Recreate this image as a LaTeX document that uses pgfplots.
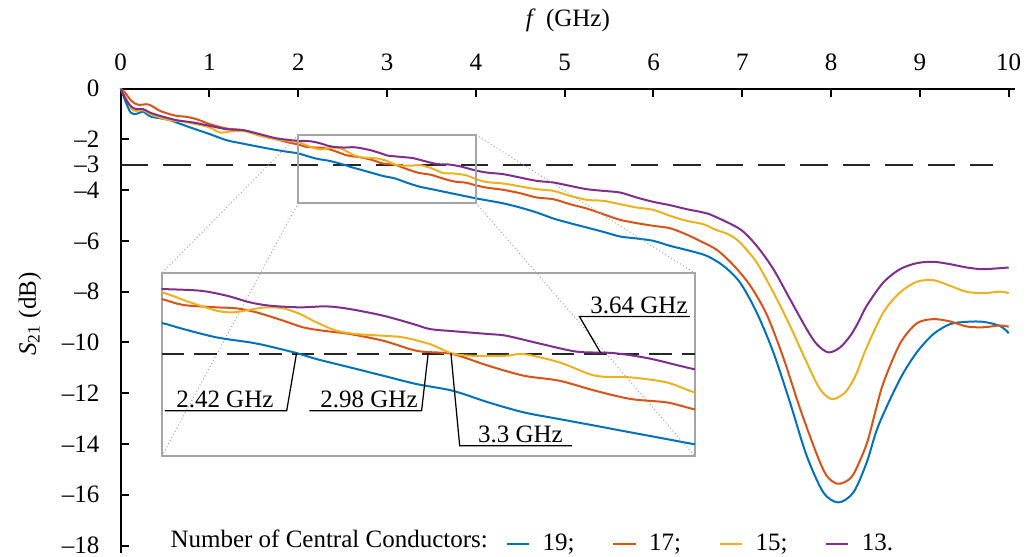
\documentclass[border=0pt]{standalone}
\usepackage{fontspec}
\setmainfont{Liberation Serif}
\usepackage{pgfplots}
\usepackage{pgfplotstable}
\pgfplotsset{compat=1.18}
\definecolor{c19}{RGB}{0,114,189}
\definecolor{c17}{RGB}{217,83,25}
\definecolor{c15}{RGB}{237,177,32}
\definecolor{c13}{RGB}{126,47,142}
\definecolor{zgray}{RGB}{165,165,165}

\pgfplotstableread{
x y
0 0
0.067 -0.615
0.112 -0.944
0.150 -1.009
0.199 -0.970
0.255 -0.902
0.293 -1.009
0.349 -1.114
0.443 -1.167
0.555 -1.245
0.630 -1.337
0.818 -1.573
1.006 -1.797
1.193 -2.033
1.381 -2.170
1.569 -2.300
1.756 -2.420
1.900 -2.500
2.000 -2.551
2.081 -2.639
2.206 -2.761
2.331 -2.834
2.394 -2.883
2.506 -2.990
2.581 -3.078
2.706 -3.199
2.831 -3.321
2.956 -3.443
3.092 -3.541
3.226 -3.711
3.359 -3.857
3.493 -3.955
3.627 -4.052
3.761 -4.150
3.895 -4.247
3.996 -4.320
4.121 -4.400
4.309 -4.520
4.497 -4.684
4.685 -4.880
4.872 -5.117
5.060 -5.300
5.248 -5.471
5.435 -5.642
5.623 -5.826
5.811 -5.904
5.998 -5.996
6.186 -6.193
6.411 -6.390
6.599 -6.587
6.787 -6.981
6.974 -7.637
7.162 -8.818
7.350 -10.392
7.537 -12.361
7.725 -14.461
7.913 -15.905
8.082 -16.299
8.251 -15.905
8.401 -14.724
8.532 -13.280
8.776 -11.442
8.964 -10.393
9.151 -9.671
9.339 -9.278
9.527 -9.186
9.714 -9.186
9.902 -9.350
10.0 -9.630
}\tblue

\pgfplotstableread{
x y
0 0
0.048 -0.156
0.105 -0.419
0.161 -0.589
0.218 -0.642
0.293 -0.615
0.349 -0.681
0.443 -0.878
0.555 -1.009
0.630 -1.075
0.743 -1.114
0.856 -1.206
1.006 -1.403
1.193 -1.573
1.381 -1.639
1.569 -1.823
1.756 -2.000
1.900 -2.130
2.000 -2.201
2.081 -2.288
2.206 -2.322
2.281 -2.337
2.356 -2.396
2.456 -2.517
2.531 -2.615
2.606 -2.664
2.706 -2.712
2.831 -2.810
2.931 -2.932
2.981 -2.971
3.092 -3.005
3.226 -3.176
3.359 -3.321
3.493 -3.395
3.627 -3.541
3.761 -3.662
3.895 -3.711
3.996 -3.809
4.121 -3.900
4.309 -3.988
4.497 -4.120
4.685 -4.290
4.872 -4.356
5.060 -4.553
5.248 -4.723
5.435 -4.946
5.623 -5.169
5.811 -5.300
5.998 -5.405
6.186 -5.500
6.374 -5.750
6.524 -6.000
6.712 -6.350
6.899 -6.950
7.087 -7.750
7.275 -8.900
7.462 -10.600
7.650 -12.600
7.838 -14.400
7.950 -15.250
8.063 -15.560
8.150 -15.500
8.250 -15.200
8.400 -14.000
8.500 -12.700
8.588 -11.600
8.775 -10.050
8.963 -9.250
9.150 -9.080
9.338 -9.170
9.526 -9.370
9.713 -9.400
9.902 -9.330
10.0 -9.380
}\torange

\pgfplotstableread{
x y
0 0
0.067 -0.419
0.124 -0.812
0.180 -0.878
0.255 -0.852
0.330 -1.009
0.443 -1.140
0.555 -1.245
0.705 -1.298
0.856 -1.403
1.006 -1.534
1.118 -1.731
1.231 -1.691
1.381 -1.665
1.569 -1.862
1.756 -2.000
1.900 -2.060
2.000 -2.103
2.106 -2.249
2.206 -2.371
2.269 -2.396
2.331 -2.357
2.394 -2.322
2.456 -2.337
2.519 -2.420
2.581 -2.542
2.656 -2.664
2.731 -2.712
2.831 -2.737
2.906 -2.761
3.006 -2.859
3.085 -2.990
3.159 -3.029
3.293 -3.029
3.359 -3.005
3.493 -3.127
3.627 -3.321
3.761 -3.346
3.895 -3.419
3.996 -3.560
4.121 -3.680
4.309 -3.740
4.497 -3.850
4.685 -3.962
4.872 -4.028
5.060 -4.225
5.248 -4.382
5.435 -4.421
5.623 -4.553
5.811 -4.684
5.998 -4.776
6.186 -5.012
6.374 -5.209
6.561 -5.340
6.700 -5.560
6.850 -5.750
6.974 -6.062
7.162 -6.850
7.350 -8.031
7.537 -9.343
7.725 -10.786
7.875 -11.837
8.007 -12.230
8.138 -12.033
8.213 -11.704
8.288 -11.200
8.400 -10.200
8.588 -8.817
8.776 -8.030
8.964 -7.610
9.151 -7.545
9.339 -7.768
9.527 -8.004
9.714 -8.056
9.902 -8.000
10.0 -8.056
}\tyellow

\pgfplotstableread{
x y
0 0
0.067 -0.484
0.124 -0.720
0.180 -0.812
0.255 -0.812
0.330 -0.944
0.443 -1.075
0.630 -1.245
0.818 -1.337
1.006 -1.468
1.193 -1.600
1.381 -1.639
1.569 -1.797
1.756 -1.960
1.944 -2.040
2.000 -2.054
2.144 -2.079
2.244 -2.152
2.331 -2.249
2.406 -2.298
2.519 -2.322
2.619 -2.308
2.706 -2.347
2.831 -2.444
2.944 -2.566
3.006 -2.639
3.092 -2.670
3.226 -2.712
3.293 -2.737
3.426 -2.859
3.560 -2.971
3.694 -2.990
3.828 -3.068
3.996 -3.224
4.121 -3.306
4.309 -3.371
4.497 -3.503
4.685 -3.634
4.872 -3.699
5.060 -3.831
5.248 -3.962
5.435 -4.028
5.623 -4.093
5.811 -4.290
5.998 -4.461
6.186 -4.592
6.374 -4.749
6.561 -4.880
6.674 -5.012
6.974 -5.537
7.162 -6.194
7.350 -7.111
7.537 -8.293
7.725 -9.474
7.838 -10.064
7.969 -10.392
8.101 -10.195
8.213 -9.750
8.300 -9.250
8.400 -8.560
8.588 -7.637
8.776 -7.112
8.964 -6.876
9.151 -6.823
9.339 -6.915
9.527 -7.046
9.714 -7.112
10.0 -7.046
}\tpurple

\begin{document}
\begin{tikzpicture}
\begin{axis}[
  name=main,
  scale only axis,
  width=357.8pt, height=185.9pt,
  xmin=0, xmax=10.07, ymin=-18.3, ymax=0,
  axis x line=top, axis y line=left,
  axis line style={-, line width=0.8pt, black},
  xtick={0,1,2,3,4,5,6,7,8,9,10},
  ytick={-18,-16,-14,-12,-10,-8,-6,-4,-3,-2,0},
  yticklabels={–18,–16,–14,–12,–10,–8,–6,–4,–3,–2,0},
  tick align=inside,
  major tick length=3.5pt,
  every tick/.style={black, line width=0.8pt},
  /pgf/number format/assume math mode=true,
  tick label style={font=\fontsize{10}{12}\selectfont},
  xticklabel style={yshift=3.8pt},
  yticklabel style={xshift=-5pt},
  xlabel={\textit{f}\, (GHz)},
  xlabel style={at={(axis description cs:0.5,1)}, anchor=base, yshift=25pt, font=\fontsize{10}{12}\selectfont},
  ylabel={\textit{S}\textsubscript{21} (dB)},
  ylabel style={at={(axis description cs:-0.1015,0.515)}, anchor=center, font=\fontsize{10}{12}\selectfont},
  clip=false,
  legend style={draw=none, fill=none, legend columns=-1,
    at={(axis cs:4.33,-17.93)}, anchor=west, inner sep=0pt,
    font=\fontsize{10}{12}\selectfont, nodes={inner sep=1pt},
    /tikz/every odd column/.append style={column sep=4pt},
    /tikz/every even column/.append style={column sep=14pt}},
  legend image code/.code={\draw[#1] (0pt,0pt) -- (9pt,0pt);},
]
\addplot[black!85, line width=0.8pt, dash pattern=on 11pt off 6pt, forget plot] coordinates {(0,-3) (9.82,-3)};
\addplot[c19, line width=0.8pt, smooth] table[x=x,y=y] {\tblue};
\addlegendentry{19;}
\addplot[c17, line width=0.8pt, smooth] table[x=x,y=y] {\torange};
\addlegendentry{17;}
\addplot[c15, line width=0.8pt, smooth] table[x=x,y=y] {\tyellow};
\addlegendentry{15;}
\addplot[c13, line width=0.8pt, smooth] table[x=x,y=y] {\tpurple};
\addlegendentry{13.}
\draw[zgray, line width=0.8pt] (axis cs:2,-1.82) rectangle (axis cs:4,-4.5);
\draw[zgray, line width=0.4pt, densely dotted] (axis cs:2,-1.82) -- (axis cs:0.4617,-7.268);
\draw[zgray, line width=0.4pt, densely dotted] (axis cs:2,-4.5) -- (axis cs:0.4617,-14.488);
\draw[zgray, line width=0.4pt, densely dotted] (axis cs:4,-1.82) -- (axis cs:6.467,-7.268);
\draw[zgray, line width=0.4pt, densely dotted] (axis cs:4,-4.5) -- (axis cs:6.467,-14.488);
\node[anchor=base west, inner sep=0pt, font=\fontsize{10}{12}\selectfont] at (axis cs:0.556,-18.08) {Number of Central Conductors:};
\coordinate (insetSW) at (axis cs:0.4617,-14.488);
\coordinate (bbSW) at (axis cs:-1.359,-18.44);
\coordinate (bbNE) at (axis cs:10.251,3.49);
\end{axis}

\begin{axis}[
  at={(insetSW)}, anchor=south west,
  scale only axis, width=213.3pt, height=73.4pt,
  xmin=2, xmax=4, ymin=-4.5, ymax=-1.82,
  ticks=none,
  axis line style={zgray, line width=0.8pt},
  clip=true,
]
\addplot[black!85, line width=0.8pt, dash pattern=on 9pt off 4pt] coordinates {(2,-3) (4,-3)};
\addplot[c19, line width=0.8pt, smooth] table[x=x,y=y] {\tblue};
\addplot[c17, line width=0.8pt, smooth] table[x=x,y=y] {\torange};
\addplot[c15, line width=0.8pt, smooth] table[x=x,y=y] {\tyellow};
\addplot[c13, line width=0.8pt, smooth] table[x=x,y=y] {\tpurple};
\draw[black, line width=0.5pt] (axis cs:2.506,-2.99) -- (axis cs:2.469,-3.833) -- (axis cs:2.012,-3.833);
\draw[black, line width=0.5pt] (axis cs:3.0,-2.99) -- (axis cs:2.975,-3.833) -- (axis cs:2.554,-3.833);
\draw[black, line width=0.5pt] (axis cs:3.085,-2.99) -- (axis cs:3.118,-4.345) -- (axis cs:3.540,-4.345);
\draw[black, line width=0.5pt] (axis cs:3.647,-2.99) -- (axis cs:3.567,-2.455) -- (axis cs:3.982,-2.455);
\node[anchor=south, inner sep=1pt, font=\fontsize{10}{12}\selectfont] at (axis cs:2.237,-3.833) {2.42 GHz};
\node[anchor=south, inner sep=1pt, font=\fontsize{10}{12}\selectfont] at (axis cs:2.778,-3.833) {2.98 GHz};
\node[anchor=south, inner sep=1pt, font=\fontsize{10}{12}\selectfont] at (axis cs:3.346,-4.345) {3.3 GHz};
\node[anchor=south, inner sep=1pt, font=\fontsize{10}{12}\selectfont] at (axis cs:3.791,-2.455) {3.64 GHz};
\end{axis}
\pgfresetboundingbox
\path[use as bounding box] (bbSW) rectangle (bbNE);
\end{tikzpicture}
\end{document}
